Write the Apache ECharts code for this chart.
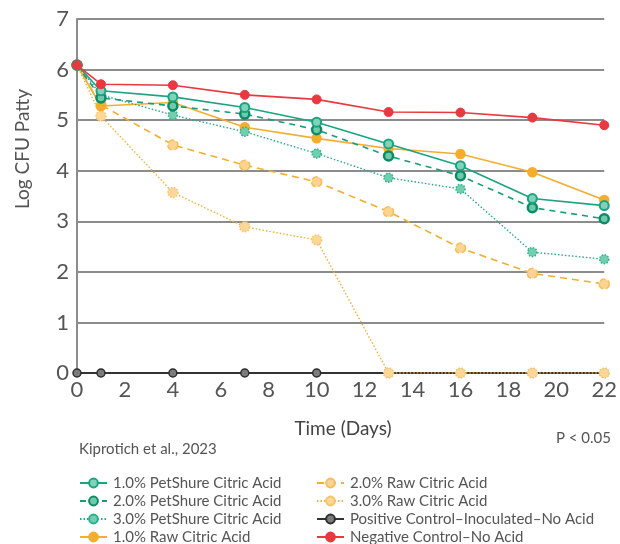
<!DOCTYPE html>
<html>
<head>
<meta charset="utf-8">
<script src="https://cdn.jsdelivr.net/npm/echarts@6/dist/echarts.min.js"></script>
<style>
html,body{margin:0;padding:0;background:#fff;}
#chart{width:620px;height:544px;}
</style>
</head>
<body>
<div id="chart"></div>
<script>
var days = [0, 1, 4, 7, 10, 13, 16, 19, 22];
var xTicks = [0, 2, 4, 6, 8, 10, 12, 14, 16, 18, 20, 22];
var yTicks = [0, 1, 2, 3, 4, 5, 6, 7];

var names = [
  '1.0% PetShure Citric Acid',
  '2.0% PetShure Citric Acid',
  '3.0% PetShure Citric Acid',
  '1.0% Raw Citric Acid',
  '2.0% Raw Citric Acid',
  '3.0% Raw Citric Acid',
  'Positive Control\u2013Inoculated\u2013No Acid',
  'Negative Control\u2013No Acid'
];

var pet1 = [6.09, 5.58, 5.46, 5.25, 4.96, 4.53, 4.10, 3.45, 3.31];
var pet2 = [6.09, 5.44, 5.28, 5.12, 4.81, 4.29, 3.90, 3.27, 3.05];
var pet3 = [6.09, 5.50, 5.10, 4.77, 4.34, 3.86, 3.64, 2.39, 2.25];
var raw1 = [6.09, 5.28, 5.35, 4.86, 4.64, 4.44, 4.33, 3.97, 3.42];
var raw2 = [6.09, 5.30, 4.51, 4.11, 3.78, 3.19, 2.47, 1.97, 1.76];
var raw3 = [6.09, 5.08, 3.57, 2.89, 2.63, 0, 0, 0, 0];
var posCtrl = [0, 0, 0, 0, 0, 0, 0, 0, 0];
var negCtrl = [6.09, 5.71, 5.69, 5.50, 5.41, 5.16, 5.15, 5.05, 4.90];

function pts(vals) { return days.map(function (d, i) { return [d, vals[i]]; }); }

var FONT = 'Lato';
var TXT = '#555';

var styles = {};
styles[names[0]] = { data: pet1, line: { color: '#1ba383', width: 1.6, type: 'solid' }, item: { color: '#7fd3b7', borderColor: '#1ba383', borderWidth: 2 }, size: 9 };
styles[names[1]] = { data: pet2, line: { color: '#169c7b', width: 1.6, type: [6, 5] }, item: { color: '#6fcaa9', borderColor: '#0d8b68', borderWidth: 2.5 }, size: 9 };
styles[names[2]] = { data: pet3, line: { color: '#25aa88', width: 1.4, type: [1.5, 2] }, item: { color: '#72cfae', borderColor: '#2ab08d', borderWidth: 1.5, borderType: 'dotted' }, size: 9 };
styles[names[3]] = { data: raw1, line: { color: '#f5ad2e', width: 1.6, type: 'solid' }, item: { color: '#f5ad2e', borderColor: '#f5ad2e', borderWidth: 1.5 }, size: 9 };
styles[names[4]] = { data: raw2, line: { color: '#f4ad2e', width: 1.6, type: [7, 5] }, item: { color: '#fbd491', borderColor: '#f7bd5a', borderWidth: 1.5, borderType: 'dashed' }, size: 10 };
styles[names[5]] = { data: raw3, line: { color: '#f4ae35', width: 1.4, type: [1.5, 2] }, item: { color: '#fcd797', borderColor: '#f8c46b', borderWidth: 1.5, borderType: 'dotted' }, size: 10 };
styles[names[6]] = { data: posCtrl, line: { color: '#333333', width: 2, type: 'solid' }, item: { color: '#7c7c7c', borderColor: '#2e2e2e', borderWidth: 1.5 }, size: 8 };
styles[names[7]] = { data: negCtrl, line: { color: '#e9383f', width: 1.6, type: 'solid' }, item: { color: '#e9383f', borderColor: '#e9383f', borderWidth: 1 }, size: 9 };

var drawOrder = [6, 5, 4, 3, 2, 1, 0, 7];
var series = drawOrder.map(function (k, idx) {
  var n = names[k], s = styles[n];
  return {
    name: n,
    type: 'line',
    data: pts(s.data),
    symbol: 'circle',
    symbolSize: s.size,
    showSymbol: true,
    lineStyle: s.line,
    itemStyle: s.item,
    z: 2 + idx,
    animation: false,
    emphasis: { disabled: true }
  };
});

var legendCommon = {
  orient: 'vertical',
  itemWidth: 27,
  itemHeight: 11,
  itemGap: 0,
  padding: 0,
  height: 90,
  textStyle: { fontFamily: FONT, fontSize: 15, color: TXT, lineHeight: 18, padding: [0, 0, 0, 1] },
  selectedMode: false
};

var option = {
  backgroundColor: '#ffffff',
  animation: false,
  grid: { left: 77, right: 15, top: 19, bottom: 171, containLabel: false },
  xAxis: {
    type: 'value', min: 0, max: 22, interval: 2,
    axisLine: { show: true, lineStyle: { color: '#444', width: 2 } },
    axisTick: { show: false },
    splitLine: { show: false },
    axisLabel: { fontFamily: FONT, fontSize: 22, color: TXT, margin: 6,
      formatter: function (v) { return xTicks.indexOf(v) >= 0 ? String(v) : ''; } }
  },
  yAxis: {
    type: 'value', min: 0, max: 7, interval: 1,
    axisLine: { show: true, lineStyle: { color: '#8c8c8c', width: 2 } },
    axisTick: { show: false },
    splitLine: { show: true, lineStyle: { color: '#8c8c8c', width: 2 } },
    axisLabel: { fontFamily: FONT, fontSize: 22, color: TXT, margin: 8,
      formatter: function (v) { return yTicks.indexOf(v) >= 0 ? String(v) : ''; } }
  },
  legend: [
    Object.assign({ left: 79, top: 474, data: names.slice(0, 4) }, legendCommon),
    Object.assign({ left: 316, top: 474, data: names.slice(4, 8) }, legendCommon)
  ],
  graphic: [
    { type: 'text', x: 23, y: 149, rotation: Math.PI / 2,
      style: { text: 'Log CFU Patty', fontFamily: FONT, fontSize: 19, fill: TXT, align: 'center', verticalAlign: 'middle' } },
    { type: 'text', x: 343, y: 429,
      style: { text: 'Time (Days)', fontFamily: FONT, fontSize: 19, fill: '#444', align: 'center', verticalAlign: 'middle' } },
    { type: 'text', x: 79, y: 449,
      style: { text: 'Kiprotich et al., 2023', fontFamily: FONT, fontSize: 15, fill: TXT, align: 'left', verticalAlign: 'middle' } },
    { type: 'text', x: 611, y: 438,
      style: { text: 'P < 0.05', fontFamily: FONT, fontSize: 15, fill: TXT, align: 'right', verticalAlign: 'middle' } }
  ],
  series: series
};

var chart = echarts.init(document.getElementById('chart'), null, { renderer: 'canvas' });
chart.setOption(option);
</script>
</body>
</html>
